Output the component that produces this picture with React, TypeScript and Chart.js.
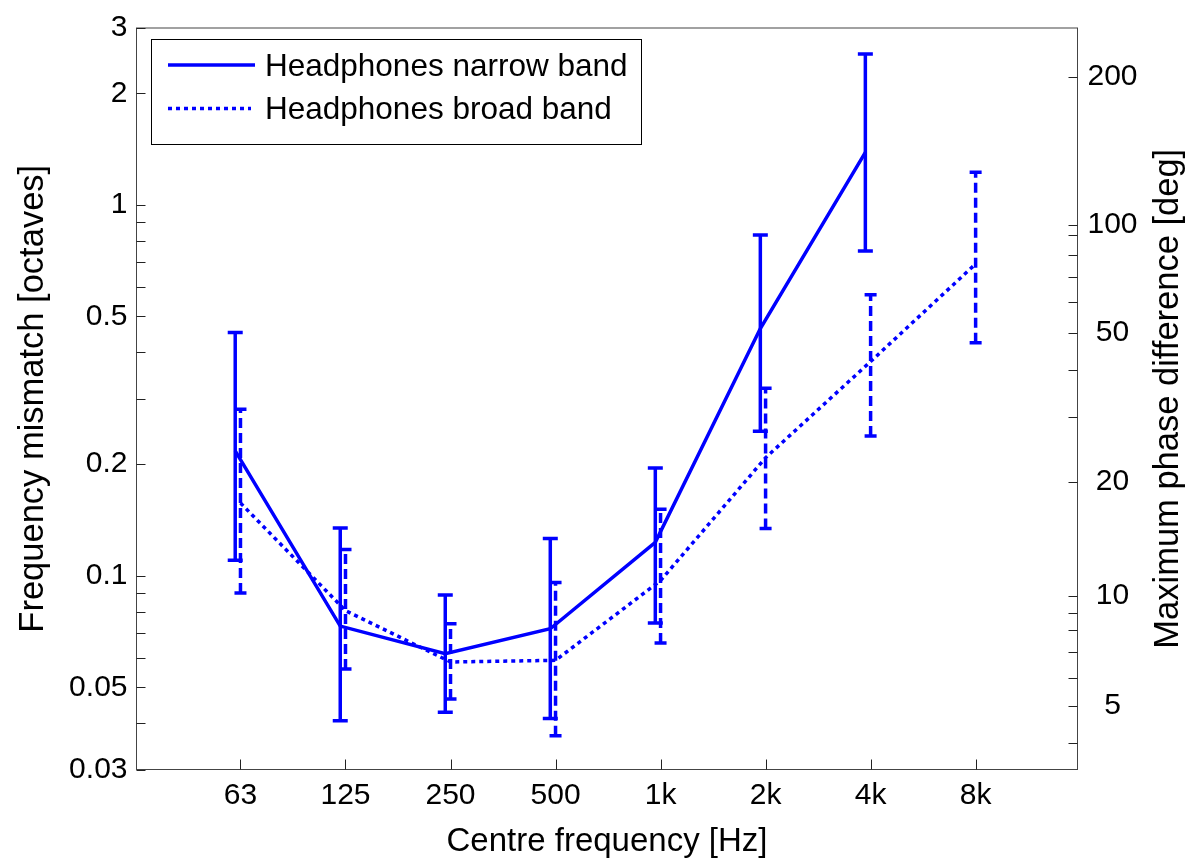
import React, { useEffect, useRef } from "react";
import { Chart, registerables } from "chart.js";

Chart.register(...registerables);

// ---------- data ----------
const categories = ["63", "125", "250", "500", "1k", "2k", "4k", "8k"];

const narrowLabel = "Headphones narrow band";
const narrowMean = [0.217, 0.0731, 0.0616, 0.0719, 0.123, 0.464, 1.385];
const narrowLow = [0.110, 0.0406, 0.0428, 0.0412, 0.0745, 0.245, 0.751];
const narrowHigh = [0.4525, 0.1345, 0.0887, 0.1259, 0.195, 0.829, 2.554];

const broadLabel = "Headphones broad band";
const broadMean = [0.157, 0.0805, 0.0585, 0.0591, 0.097, 0.208, 0.378, 0.693];
const broadLow = [0.0898, 0.056, 0.0465, 0.037, 0.0658, 0.134, 0.238, 0.425];
const broadHigh = [0.281, 0.1177, 0.0742, 0.0959, 0.151, 0.32, 0.572, 1.224];

// left axis ticks (octaves)
const leftTickValues = [0.03, 0.04, 0.05, 0.06, 0.07, 0.08, 0.09, 0.1, 0.2, 0.3, 0.4, 0.5, 0.6, 0.7, 0.8, 0.9, 1, 2, 3];
const leftTickLabels = ["0.03", "", "0.05", "", "", "", "", "0.1", "0.2", "", "", "0.5", "", "", "", "", "1", "2", "3"];

// right axis ticks: phase difference [deg] and the octave value where each sits
const phaseTickOct = [0.03532, 0.04459, 0.05311, 0.06226, 0.07145, 0.07935, 0.08838, 0.1788, 0.2677, 0.3594, 0.4524, 0.547, 0.6407, 0.7339, 0.8291, 0.8837, 2.211];
const phaseTickLabels = ["", "5", "", "", "", "", "10", "20", "", "", "50", "", "", "", "", "100", "200"];

const xTitle = "Centre frequency [Hz]";
const leftTitle = "Frequency mismatch [octaves]";
const rightTitle = "Maximum phase difference [deg]";

// ---------- style ----------
const BLUE = "#0000FF";
const FONT = '"Liberation Sans", Arial, sans-serif';
const NARROW_OFFSET = -0.05;

const decorPlugin = {
  id: "decor",
  afterDatasetsDraw(chart: any) {
    const ctx = chart.ctx;
    const xs = chart.scales.x;
    const ys = chart.scales.y;
    const drawBars = (lows: number[], highs: number[], offset: number, dash: number[], cap: number) => {
      ctx.save();
      ctx.strokeStyle = BLUE;
      ctx.lineWidth = 3.5;
      ctx.lineCap = "butt";
      for (let i = 0; i < lows.length; i++) {
        const x = xs.getPixelForValue(i + offset);
        const yl = ys.getPixelForValue(lows[i]);
        const yh = ys.getPixelForValue(highs[i]);
        ctx.setLineDash(dash);
        ctx.beginPath();
        ctx.moveTo(x, yl);
        ctx.lineTo(x, yh);
        ctx.stroke();
        ctx.setLineDash([]);
        ctx.beginPath();
        ctx.moveTo(x - cap, yl);
        ctx.lineTo(x + cap, yl);
        ctx.moveTo(x - cap, yh);
        ctx.lineTo(x + cap, yh);
        ctx.stroke();
      }
      ctx.restore();
    };
    drawBars(narrowLow, narrowHigh, NARROW_OFFSET, [], 7.5);
    drawBars(broadLow, broadHigh, 0, [10, 5], 6);
  },
  afterDraw(chart: any) {
    const ctx = chart.ctx;
    const { left, right, top, bottom } = chart.chartArea;
    const xs = chart.scales.x;
    const ys = chart.scales.y;
    const y2 = chart.scales.y2;
    ctx.save();
    // box
    ctx.strokeStyle = "#444";
    ctx.lineWidth = 1;
    ctx.strokeRect(left, top, right - left, bottom - top);
    // inward ticks
    ctx.strokeStyle = "#222";
    ctx.beginPath();
    ys.ticks.forEach((t: any) => {
      const y = Math.round(ys.getPixelForValue(t.value)) + 0.5;
      ctx.moveTo(left, y);
      ctx.lineTo(left + 9, y);
    });
    y2.ticks.forEach((t: any) => {
      const y = Math.round(y2.getPixelForValue(t.value)) + 0.5;
      ctx.moveTo(right - 9, y);
      ctx.lineTo(right, y);
    });
    xs.ticks.forEach((t: any) => {
      const x = Math.round(xs.getPixelForValue(t.value)) + 0.5;
      ctx.moveTo(x, bottom);
      ctx.lineTo(x, bottom - 10);
    });
    ctx.stroke();

    // legend
    const lx = 151.5, ly = 39.5, lw = 490, lh = 105;
    ctx.fillStyle = "#fff";
    ctx.fillRect(lx, ly, lw, lh);
    ctx.strokeStyle = "#000";
    ctx.lineWidth = 1;
    ctx.strokeRect(lx, ly, lw, lh);
    const ds = chart.data.datasets;
    const rows = [65, 108.5];
    ds.forEach((d: any, i: number) => {
      ctx.strokeStyle = d.borderColor;
      ctx.lineWidth = d.borderWidth;
      ctx.setLineDash(d.borderDash || []);
      ctx.beginPath();
      ctx.moveTo(168, rows[i]);
      ctx.lineTo(i === 0 ? 255 : 251, rows[i]);
      ctx.stroke();
      ctx.setLineDash([]);
      ctx.fillStyle = "#000";
      ctx.font = `31.5px ${FONT}`;
      ctx.textAlign = "left";
      ctx.textBaseline = "middle";
      ctx.fillText(d.label, 265, rows[i] + 2);
    });

    // right title (reads bottom to top)
    ctx.translate(1168, (top + bottom) / 2);
    ctx.rotate(-Math.PI / 2);
    ctx.fillStyle = "#000";
    ctx.font = `34.5px ${FONT}`;
    ctx.textAlign = "center";
    ctx.textBaseline = "middle";
    ctx.fillText(rightTitle, 0, 0);
    ctx.restore();
  },
};

export default function App() {
  const ref = useRef<HTMLCanvasElement>(null);
  useEffect(() => {
    if (!ref.current) return;
    const chart = new Chart(ref.current, {
      type: "line",
      data: {
        datasets: [
          {
            label: narrowLabel,
            data: narrowMean.map((v, i) => ({ x: i + NARROW_OFFSET, y: v })),
            borderColor: BLUE,
            borderWidth: 3.5,
            pointRadius: 0,
            tension: 0,
            fill: false,
          },
          {
            label: broadLabel,
            data: broadMean.map((v, i) => ({ x: i, y: v })),
            borderColor: BLUE,
            borderWidth: 3.5,
            borderDash: [4, 4],
            borderCapStyle: "butt",
            pointRadius: 0,
            tension: 0,
            fill: false,
          },
        ],
      },
      plugins: [decorPlugin],
      options: {
        responsive: false,
        animation: false,
        devicePixelRatio: 1,
        layout: { padding: { top: 23.5, left: 0, right: 0, bottom: 0 } },
        plugins: { legend: { display: false }, tooltip: { enabled: false } },
        scales: {
          x: {
            type: "linear",
            min: -0.99,
            max: 7.97,
            grid: { display: false, drawTicks: false },
            border: { display: false },
            afterBuildTicks: (s: any) => {
              s.ticks = categories.map((_, i) => ({ value: i }));
            },
            afterFit: (s: any) => {
              s.height = 88.5;
            },
            ticks: {
              autoSkip: false,
              maxRotation: 0,
              padding: 8,
              color: "#000",
              font: { family: FONT, size: 30 },
              callback: (v: any) => categories[Math.round(Number(v))] ?? "",
            },
            title: {
              display: true,
              text: xTitle,
              color: "#000",
              font: { family: FONT, size: 33, lineHeight: 1 },
              padding: { top: 0, bottom: 0 },
            },
          },
          y: {
            type: "logarithmic",
            position: "left",
            min: 0.03,
            max: 3,
            grid: { display: false, drawTicks: false },
            border: { display: false },
            afterBuildTicks: (s: any) => {
              s.ticks = leftTickValues.map((v) => ({ value: v }));
            },
            afterFit: (s: any) => {
              s.width = 136.5;
            },
            ticks: {
              autoSkip: false,
              padding: 9,
              color: "#000",
              font: { family: FONT, size: 30 },
              callback: (_v: any, i: number) => leftTickLabels[i] ?? "",
            },
            title: {
              display: true,
              text: leftTitle,
              color: "#000",
              font: { family: FONT, size: 34.5 },
              padding: { top: 12.5, bottom: 0 },
            },
          },
          y2: {
            type: "logarithmic",
            position: "right",
            min: 0.03,
            max: 3,
            grid: { display: false, drawTicks: false },
            border: { display: false },
            afterBuildTicks: (s: any) => {
              s.ticks = phaseTickOct.map((v) => ({ value: v }));
            },
            afterFit: (s: any) => {
              s.width = 111.5;
            },
            ticks: {
              autoSkip: false,
              padding: 10,
              crossAlign: "center",
              color: "#000",
              font: { family: FONT, size: 30 },
              callback: (_v: any, i: number) => phaseTickLabels[i] ?? "",
            },
          },
        },
      },
    } as any);
    return () => chart.destroy();
  }, []);
  return (
    <div style={{ position: "absolute", left: 0, top: 0, width: 1189, height: 858, background: "#fff" }}>
      <canvas ref={ref} width={1189} height={858} style={{ display: "block", width: 1189, height: 858 }} />
    </div>
  );
}
